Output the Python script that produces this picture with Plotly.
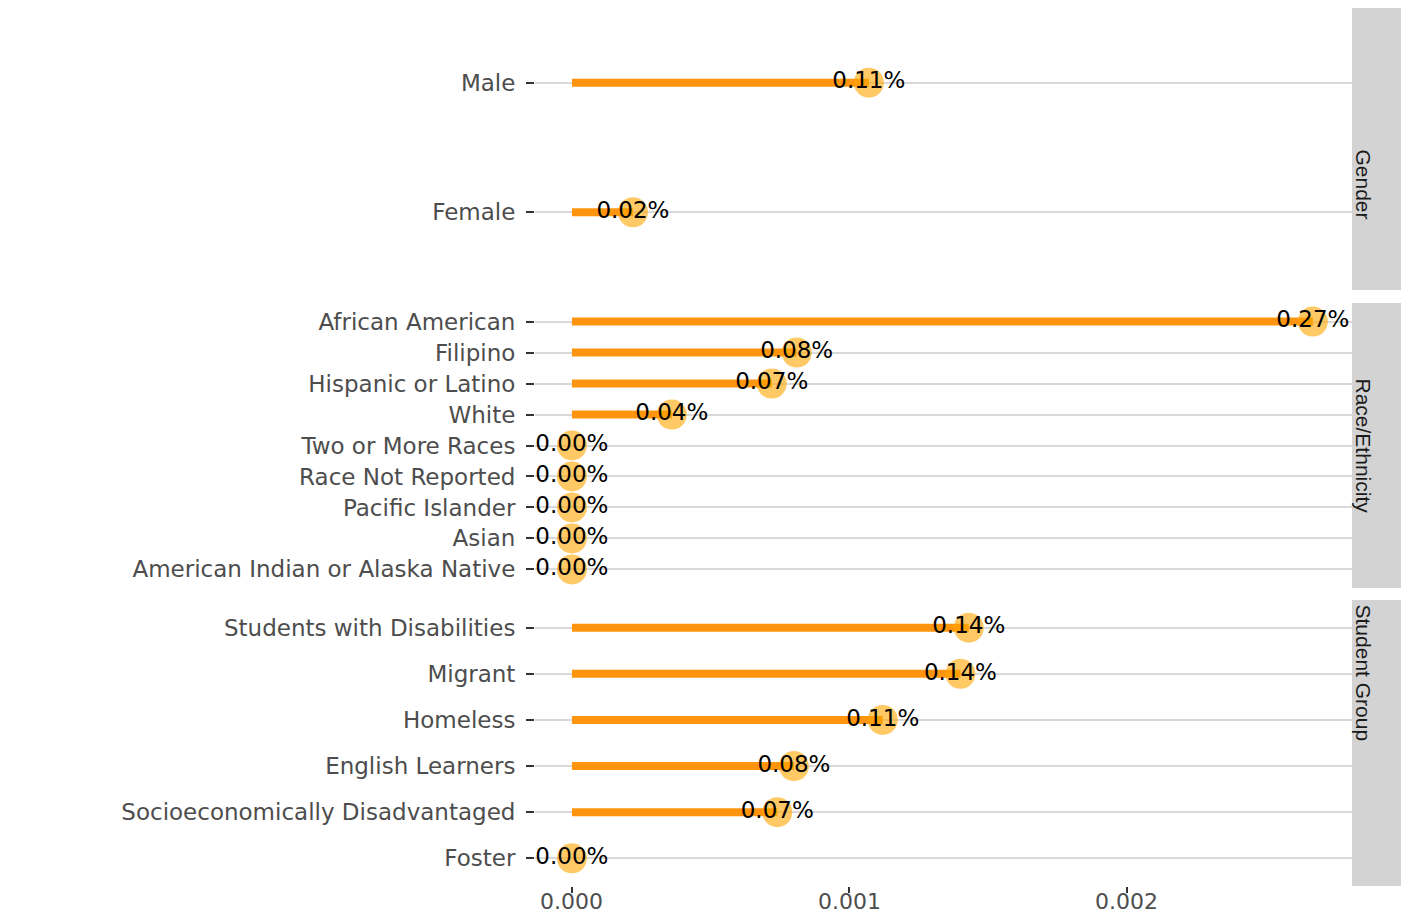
import plotly.graph_objects as go

# Data
gender_cats = ["Male", "Female"]
gender_vals = [0.00107, 0.00022]

race_cats = ["African American", "Filipino", "Hispanic or Latino", "White",
             "Two or More Races", "Race Not Reported", "Pacific Islander",
             "Asian", "American Indian or Alaska Native"]
race_vals = [0.00267, 0.00081, 0.00072, 0.00036, 0.0, 0.0, 0.0, 0.0, 0.0]

group_cats = ["Students with Disabilities", "Migrant", "Homeless",
              "English Learners", "Socioeconomically Disadvantaged", "Foster"]
group_vals = [0.00143, 0.00140, 0.00112, 0.00080, 0.00074, 0.0]

x_ticks = [0, 0.001, 0.002]

facets = ["Gender", "Race/Ethnicity", "Student Group"]
facet_cats = [gender_cats, race_cats, group_cats]
facet_vals = [gender_vals, race_vals, group_vals]

# page has an 8px body margin all round, so the figure is 16px smaller
OFF = 8
W, H = 1409 - 2 * OFF, 923 - 2 * OFF
panel_px = [(5, 290), (303, 588), (600, 886)]  # top, bottom of each panel (page px)
x_left, x_right, strip_right = 535, 1352, 1409

seg_color = "#FF950E"
pt_color = "rgba(255,165,0,0.6)"
tick_font = dict(family="DejaVu Sans, Verdana, sans-serif", size=23, color="#4D4D4D")

def px_x(p):
    return min(1.0, (p - OFF) / W)

def px_y(p):
    return min(1.0, 1 - (p - OFF) / H)

fig = go.Figure()
layout = {}

for i, (name, cats, vals) in enumerate(zip(facets, facet_cats, facet_vals)):
    n = i + 1
    xa = "x" if n == 1 else "x%d" % n
    ya = "y" if n == 1 else "y%d" % n

    # segments from 0 to value
    sx, sy = [], []
    for c, v in zip(cats, vals):
        sx += [0, v, None]
        sy += [c, c, None]
    fig.add_trace(go.Scatter(x=sx, y=sy, mode="lines", xaxis=xa, yaxis=ya,
                             line=dict(color=seg_color, width=8),
                             showlegend=False, hoverinfo="skip"))
    # points
    fig.add_trace(go.Scatter(x=vals, y=cats, mode="markers", xaxis=xa, yaxis=ya,
                             marker=dict(size=30, color=pt_color, line=dict(width=0)),
                             showlegend=False))
    # labels
    fig.add_trace(go.Scatter(x=vals, y=cats, mode="text", xaxis=xa, yaxis=ya,
                             text=["%.2f%%" % (v * 100) for v in vals],
                             textposition="middle center",
                             textfont=dict(family="DejaVu Sans, Verdana, sans-serif",
                                           size=23, color="black"),
                             showlegend=False, hoverinfo="skip"))

    top, bot = panel_px[i]
    unit = (bot - top) / (len(cats) + 0.2)
    vis_top = max(top, OFF)
    dom = [px_y(bot), px_y(vis_top)]
    xkey = "xaxis" if n == 1 else "xaxis%d" % n
    ykey = "yaxis" if n == 1 else "yaxis%d" % n
    layout[xkey] = dict(domain=[px_x(x_left), px_x(x_right)], anchor=ya,
                        range=[-0.000133, 0.002811], showgrid=False, zeroline=False,
                        showticklabels=False, ticks="outside" if n == 3 else "",
                        tickvals=x_ticks, ticklen=6, tickwidth=2, tickcolor="#333333",
                        showline=False, automargin=False)
    if n != 1:
        layout[xkey]["matches"] = "x"
    layout[ykey] = dict(domain=dom, anchor=xa, type="category",
                        categoryorder="array", categoryarray=cats[::-1],
                        range=[-0.6, len(cats) - 0.4 - (vis_top - top) / unit],
                        showgrid=True, gridcolor="#D9D9D9", gridwidth=2,
                        ticks="outside", ticklen=8, tickwidth=2, tickcolor="#333333",
                        tickfont=tick_font, showline=False, zeroline=False,
                        ticklabelstandoff=6, automargin=False)

    # facet strip
    fig.add_shape(type="rect", xref="paper", yref="paper",
                  x0=px_x(x_right), x1=px_x(strip_right), y0=dom[0], y1=dom[1],
                  fillcolor="#D3D3D3", line=dict(width=0), layer="below")
    fig.add_annotation(text=name, xref="paper", yref="paper",
                       x=(px_x(x_right) + px_x(strip_right)) / 2,
                       y=(px_y(bot) + 1 - (top - OFF) / H) / 2,
                       textangle=90, showarrow=False,
                       font=dict(family="Liberation Sans, Arial, sans-serif",
                                 size=21, color="#1A1A1A"))

# x tick labels for bottom panel, kept inside the figure
for t in x_ticks:
    fig.add_annotation(text="%.3f" % t, xref="x3", yref="paper", x=t, y=0,
                       xanchor="center", yanchor="bottom", showarrow=False,
                       borderpad=0, font=dict(tick_font, size=22))

fig.update_layout(width=W, height=H, margin=dict(l=0, r=0, t=0, b=0),
                  plot_bgcolor="white", paper_bgcolor="white", **layout)

fig.write_html("out.html")
